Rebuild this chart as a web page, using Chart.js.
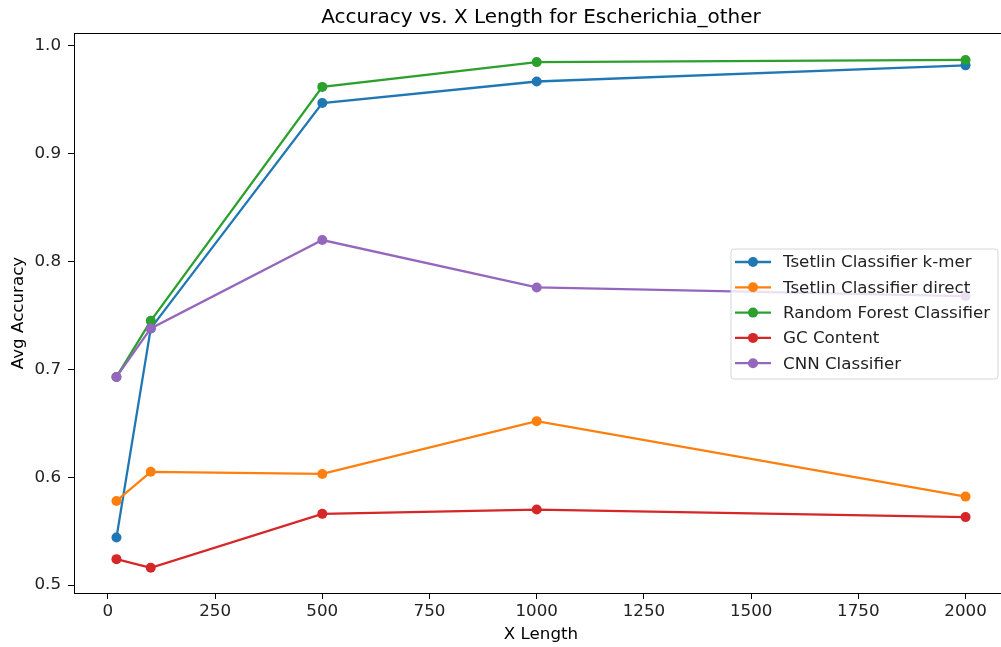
<!DOCTYPE html>
<html>
<head>
<meta charset="utf-8">
<script src="https://cdn.jsdelivr.net/npm/chart.js@4/dist/chart.umd.min.js"></script>
<style>
  html, body { margin: 0; padding: 0; background: #fff; overflow: hidden; }
  #wrap { width: 1013px; height: 647px; }
</style>
</head>
<body>
<div id="wrap"><canvas id="chart1"></canvas></div>
<script>
// data
const xLengths = [20, 100, 500, 1000, 2000]
const seriesNames = ['Tsetlin Classifier k-mer', 'Tsetlin Classifier direct', 'Random Forest Classifier', 'GC Content', 'CNN Classifier']
const kmerAcc = [0.544, 0.738, 0.947, 0.967, 0.982]
const directAcc = [0.578, 0.605, 0.603, 0.652, 0.582]
const forestAcc = [0.693, 0.745, 0.962, 0.985, 0.987]
const gcAcc = [0.524, 0.516, 0.566, 0.570, 0.563]
const cnnAcc = [0.693, 0.738, 0.820, 0.776, 0.768]
const colors = ['#1f77b4', '#ff7f0e', '#2ca02c', '#d62728', '#9467bd']
const xTicks = [0, 250, 500, 750, 1000, 1250, 1500, 1750, 2000]
const yTicks = [0.5, 0.6, 0.7, 0.8, 0.9, 1.0]
const titleText = 'Accuracy vs. X Length for Escherichia_other'

const allSeries = [kmerAcc, directAcc, forestAcc, gcAcc, cnnAcc]
const font = "'DejaVu Sans', sans-serif"

const datasets = allSeries.map((vals, i) => ({
    label: seriesNames[i],
    data: xLengths.map((x, j) => ({ x: x, y: vals[j] })),
    borderColor: colors[i],
    backgroundColor: colors[i],
    borderWidth: 2.3,
    pointRadius: 5,
    pointHoverRadius: 5,
    pointBorderWidth: 0,
    order: allSeries.length - i // later series on top, like matplotlib
}))

// box, title (centred on the plot) and legend at centre right
const boxAndLegend = {
    id: 'boxAndLegend',
    afterDraw(chart) {
        const c = chart.ctx
        const a = chart.chartArea
        c.save()
        c.strokeStyle = '#000'
        c.lineWidth = 1
        c.strokeRect(a.left + 0.5, a.top + 0.5, a.right - a.left - 1, a.bottom - a.top)

        c.fillStyle = '#000'
        c.font = '20px ' + font
        c.textAlign = 'center'
        c.textBaseline = 'middle'
        c.fillText(titleText, (a.left + a.right) / 2, 18)

        // legend
        const rowH = 25.3
        const w = 267, h = 130
        const x0 = a.right - 10 - w
        const y0 = (a.top + a.bottom) / 2 - h / 2 + 1
        c.globalAlpha = 0.8
        c.fillStyle = '#fff'
        c.beginPath()
        c.roundRect(x0, y0, w, h, 3)
        c.fill()
        c.globalAlpha = 1
        c.strokeStyle = '#d6d6d6'
        c.stroke()
        c.font = '16.7px ' + font
        c.textAlign = 'left'
        seriesNames.forEach((name, i) => {
            const y = y0 + 13 + i * rowH
            c.strokeStyle = colors[i]
            c.lineWidth = 2.3
            c.beginPath()
            c.moveTo(x0 + 4, y)
            c.lineTo(x0 + 40, y)
            c.stroke()
            c.fillStyle = colors[i]
            c.beginPath()
            c.arc(x0 + 22, y, 5, 0, Math.PI * 2)
            c.fill()
            c.fillStyle = '#222'
            c.fillText(name, x0 + 52, y + 1)
        })
        c.restore()
    }
}

const ctx = document.getElementById('chart1').getContext('2d')
const chart1 = new Chart(ctx, {
    type: 'line',
    data: { datasets: datasets },
    plugins: [boxAndLegend],
    options: {
        responsive: true,
        maintainAspectRatio: false,
        animation: false,
        events: [],
        layout: { padding: { top: 33, right: 0, left: 0, bottom: 0 } },
        plugins: {
            legend: { display: false },
            tooltip: { enabled: false },
            title: { display: false }
        },
        scales: {
            x: {
                type: 'linear',
                min: -79,
                max: 2099,
                afterBuildTicks: (s) => { s.ticks = xTicks.map(v => ({ value: v })) },
                afterFit: (s) => { s.height = 54 },
                grid: { drawOnChartArea: false, drawTicks: true, tickLength: 6, tickColor: '#000' },
                border: { display: false },
                ticks: { color: '#222', font: { family: font, size: 16.7 }, padding: 3, maxRotation: 0, callback: (v) => String(v) },
                title: { display: true, text: 'X Length', color: '#000', font: { family: font, size: 16.7 }, padding: { top: 0, bottom: 2 } }
            },
            y: {
                type: 'linear',
                min: 0.4926,
                max: 1.012,
                afterBuildTicks: (s) => { s.ticks = yTicks.map(v => ({ value: v })) },
                afterFit: (s) => { s.width = 74 },
                grid: { drawOnChartArea: false, drawTicks: true, tickLength: 6, tickColor: '#000' },
                border: { display: false },
                ticks: { color: '#222', font: { family: font, size: 16.7 }, padding: 7, callback: (v) => v.toFixed(1) },
                title: { display: true, text: 'Avg Accuracy', color: '#000', font: { family: font, size: 16.7 }, padding: { top: 9, bottom: 0 } }
            }
        }
    }
})
</script>
</body>
</html>
